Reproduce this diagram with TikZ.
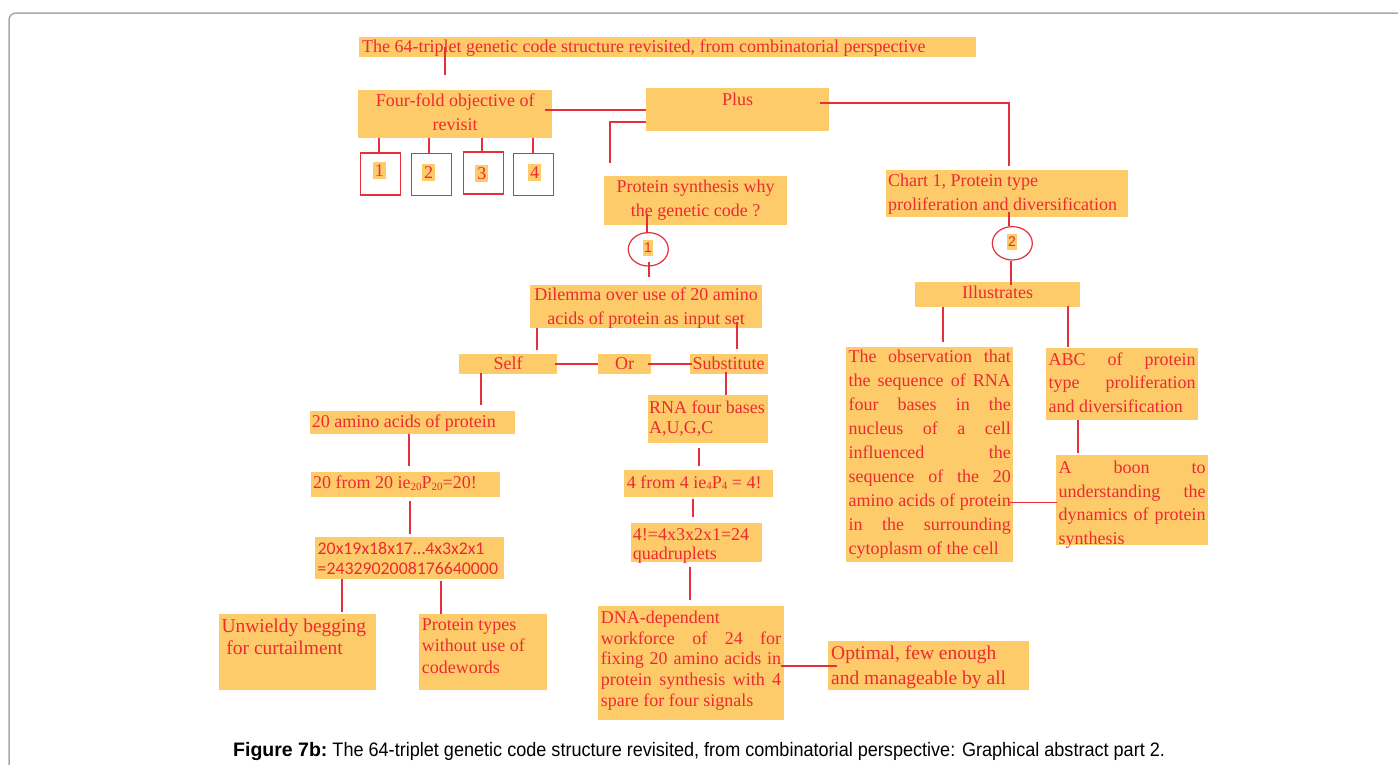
\documentclass[tikz,border=0pt]{standalone}
\usepackage{graphicx}
\usepackage{fontspec}
\setmainfont{Liberation Serif}
\newfontfamily\numfont{Carlito}
\newfontfamily\capfont{Liberation Sans}
\usetikzlibrary{shapes.geometric}

\definecolor{boxfill}{RGB}{254,203,106}
\definecolor{inkred}{RGB}{236,42,52}
\definecolor{wirered}{RGB}{228,48,60}
\definecolor{framegray}{RGB}{168,168,168}

% fixed-size text panel: width, height, side pad, first-baseline drop, alignment, text
\newcommand\pnl[6]{\parbox[t][#2pt][t]{#1pt}{\hspace*{#3pt}\parbox[t]{\dimexpr #1pt-#3pt-#3pt\relax}{#5\rule{0pt}{#4pt}#6}}}
% a fully justified line
\newcommand\jl[1]{\makebox[\linewidth][s]{#1}}
% small lowered index
\newcommand\lowsub[1]{\raisebox{-1.5pt}{\fontsize{11}{11}\selectfont #1}}

\tikzset{
  every node/.style={font=\fontsize{18}{24}\selectfont},
  panel/.style={fill=boxfill, inner sep=0pt, anchor=north west, text=inkred},
  link/.style={draw=wirered, line width=1.9pt},
  numbox/.style={draw=wirered, line width=1.7pt, inner sep=0pt, anchor=north west, minimum width=40pt, minimum height=42pt},
  numtag/.style={fill=boxfill, text=inkred, inner xsep=2pt, inner ysep=2.5pt},
  ringdigit/.style={numtag, font=\capfont\fontsize{14}{14}\selectfont, inner xsep=1.5pt, inner ysep=3pt},
  ring/.style={ellipse, draw=wirered, line width=1.2pt, inner sep=0pt, minimum width=40pt, minimum height=33.4pt},
}

\begin{document}
\begin{tikzpicture}[x=1pt,y=-1pt]
\useasboundingbox (0,0) rectangle (1398,764);

% page frame
\draw[framegray, line width=1.5pt, rounded corners=7pt] (9,800) -- (9,13) -- (1430,13);

% text panels
\node[panel] (title) at (359,37) {\pnl{617}{20}{3}{15.5}{\raggedright}{The 64-triplet genetic code structure revisited, from combinatorial perspective}};
\node[panel, font=\fontsize{18}{23.3}\selectfont] (fourfold) at (358,90) {\pnl{194}{47.7}{2}{16.7}{\centering}{Four-fold objective of\\revisit}};
\node[panel] (plus) at (646,88) {\pnl{183}{42.7}{2}{17}{\centering}{Plus}};
\node[panel] (ps) at (604,176) {\pnl{183}{48.7}{2}{16.7}{\centering}{Protein synthesis why\\the genetic code ?}};
\node[panel] (chart) at (886,169.3) {\pnl{242}{47.4}{2}{16.5}{\raggedright}{Chart 1, Protein type\\proliferation and diversification}};
\node[panel, font=\fontsize{18}{23.5}\selectfont] (dilemma) at (530,285) {\pnl{232}{42.7}{2}{15.5}{\centering}{Dilemma over use of 20 amino\\acids of protein as input set}};
\node[panel] (self) at (459,354) {\pnl{97.7}{19.7}{2}{15.5}{\centering}{Self}};
\node[panel] (or) at (598,354) {\pnl{52.7}{19.7}{2}{15.5}{\centering}{Or}};
\node[panel] (subst) at (690,354) {\pnl{77.7}{19.7}{2.5}{15.5}{\raggedright}{Substitute}};
\node[panel] (amino) at (310,411) {\pnl{204.7}{22.7}{1.7}{16}{\raggedright}{20 amino acids of protein}};
\node[panel] (from20) at (311,472) {\pnl{189}{24.7}{2}{16.6}{\raggedright}{20 from 20 ie\lowsub{20}P\lowsub{20}=20!}};
\node[panel, font=\numfont\fontsize{17.8}{20.4}\selectfont] (big) at (315,537) {\pnl{188.7}{41.7}{2.5}{16.9}{\raggedright}{20x19x18x17…4x3x2x1\\=2432902008176640000}};
\node[panel, font=\fontsize{18}{20.6}\selectfont] (rna) at (647.3,395) {\pnl{120.4}{47.7}{1.5}{18}{\raggedright}{RNA four bases\\A,U,G,C}};
\node[panel] (from4) at (624,470) {\pnl{148.7}{26.7}{2.7}{18}{\raggedright}{4 from 4 ie\lowsub{4}P\lowsub{4} = 4!}};
\node[panel, font=\fontsize{18}{19}\selectfont] (fact4) at (631,523) {\pnl{131}{38.7}{1.7}{17.3}{\raggedright}{4!=4x3x2x1=24\\quadruplets}};
\node[panel, font=\fontsize{19.5}{22}\selectfont] (unwieldy) at (219,614) {\pnl{156.7}{75.3}{2.3}{18.2}{\raggedright}{Unwieldy begging\\\hspace*{4.9pt}for curtailment}};
\node[panel, font=\fontsize{18}{21.5}\selectfont] (ptypes) at (419,614) {\pnl{127.7}{75.3}{2.7}{16.2}{\raggedright}{Protein types\\without use of\\codewords}};
\node[panel, font=\fontsize{18}{20.9}\selectfont] (dna) at (598,606) {\pnl{185.7}{113.3}{2.7}{16.9}{}{DNA-dependent\\\jl{workforce of 24 for}\\\jl{fixing 20 amino acids in}\\\jl{protein synthesis with 4}\\spare for four signals}};
\node[panel, font=\fontsize{19.5}{25.6}\selectfont] (optimal) at (828,641) {\pnl{201}{48.3}{3}{17.9}{\raggedright}{Optimal, few enough\\and manageable by all}};
\node[panel] (illus) at (915,282) {\pnl{165}{24.7}{2}{16.6}{\centering}{Illustrates}};
\node[panel] (obs) at (846,346.7) {\pnl{167}{215}{2.3}{15.9}{}{\jl{The observation that}\\\jl{the sequence of RNA}\\\jl{four bases in the}\\\jl{nucleus of a cell}\\\jl{influenced the}\\\jl{sequence of the 20}\\\jl{amino acids of protein}\\\jl{in the surrounding}\\cytoplasm of the cell}};
\node[panel, font=\fontsize{18}{23.5}\selectfont] (abc) at (1046,347.3) {\pnl{151.7}{72}{2.3}{17.9}{}{\jl{ABC of protein}\\\jl{type proliferation}\\and diversification}};
\node[panel, font=\fontsize{18}{23.9}\selectfont] (boon) at (1056,455) {\pnl{151.7}{90}{2.3}{17.9}{}{\jl{A boon to}\\\jl{understanding the}\\\jl{dynamics of protein}\\synthesis}};

% the four numbered objectives
\node[numbox] (b1) at (359.5,152) {};
\node[numbox] (b2) at (410.5,152.5) {};
\node[numbox] (b3) at (462.5,151) {};
\node[numbox] (b4) at (512.5,152.5) {};
\node[numtag] (n1) at (379.4,170.2) {1};
\node[numtag] (n2) at (428.7,172.3) {2};
\node[numtag] (n3) at (481.8,173.5) {3};
\node[numtag] (n4) at (534.5,172.2) {4};

% circled step markers
\node[ring] (c1) at (648.3,249.3) {};
\node[ring] (c2) at (1012.3,243.3) {};
\node[ringdigit] (c1n) at (647.9,247.9) {1};
\node[ringdigit] (c2n) at (1011.9,241.7) {2};

% connectors
\draw[link] ([xshift=86pt,yshift=10pt]title.south west) -- ++(0,28);
\draw[link] ([yshift=-0.65pt]plus.west) -- ++(-101,0);
\draw[link] ([yshift=9pt]plus.south west) -| ([xshift=6pt,yshift=12.7pt]ps.north west);
\draw[link] ([xshift=-9pt,yshift=-15pt]plus.north east) -| ([xshift=2pt,yshift=3.3pt]chart.north);
\draw[link] ([xshift=-1pt]b1.north) -- ([xshift=-1pt]b1.north |- fourfold.south);
\draw[link] ([xshift=-2pt]b2.north) -- ([xshift=-2pt]b2.north |- fourfold.south);
\draw[link] ([xshift=-1pt]b3.north) -- ([xshift=-1pt]b3.north |- fourfold.south);
\draw[link] (b4.north) -- (b4.north |- fourfold.south);
\draw[link] ([xshift=-1.6pt]c1.north) -- ++(0,-17.6);
\draw[link] ([xshift=0.7pt,yshift=4.3pt]c1.south) -- ++(0,15);
\draw[link] ([xshift=7pt]dilemma.south west) -- ++(0,22);
\draw[link] ([xshift=-25.3pt,yshift=5.7pt]dilemma.south east) -- ++(0,26.3);
\draw[link] ([xshift=-1.7pt]self.east) -- (or.west);
\draw[link] ([xshift=-2.7pt]or.east) -- ([xshift=1.7pt]subst.west);
\draw[link] ([xshift=22pt,yshift=1.4pt]self.south west) -- ++(0,32.7);
\draw[link] ([xshift=99pt]amino.south west) -- ++(0,32.3);
\draw[link] ([xshift=99.3pt,yshift=-4.3pt]from20.south west) -- ++(0,32.7);
\draw[link] ([xshift=26.7pt]big.south west) -- ++(0,32.6);
\draw[link] ([xshift=22pt]ptypes.north west) -- ++(0,-33);
\draw[link] ([xshift=35.7pt,yshift=1.7pt]subst.south west) -- ([xshift=78.4pt]rna.north west);
\draw[link] ([xshift=51.4pt,yshift=-4.6pt]rna.south west) -- ++(0,18);
\draw[link] ([xshift=69.3pt,yshift=-2pt]from4.south west) -- ++(0,18);
\draw[link] ([xshift=59pt,yshift=-5pt]fact4.south west) -- ++(0,33.3);
\draw[link] ([xshift=-2.7pt,yshift=-3.4pt]dna.east) -- ++(55.7,0);
\draw[link] ([xshift=-3.3pt]c2.north) -- ++(0,-14);
\draw[link] ([xshift=-1.3pt]c2.south) -- ++(0,24);
\draw[link] ([xshift=27.7pt]illus.south west) -- ++(0,35);
\draw[link] ([xshift=22.3pt]abc.north west) -- ++(0,-41.6);
\draw[link] ([xshift=32pt]abc.south west) -- ++(0,33.4);
\draw[link] ([xshift=0.7pt,yshift=-2.3pt]boon.west) -- ++(-46.7,0);

% caption
\node[font=\capfont\fontsize{19.5}{19.5}\selectfont, text=black, anchor=base west, inner sep=0pt] (cap) at (233,756) {\textbf{Figure 7b:}\scalebox{0.927}[1]{\ The 64-triplet genetic code structure revisited, from combinatorial perspective: Graphical abstract part 2.}};
\end{tikzpicture}
\end{document}
